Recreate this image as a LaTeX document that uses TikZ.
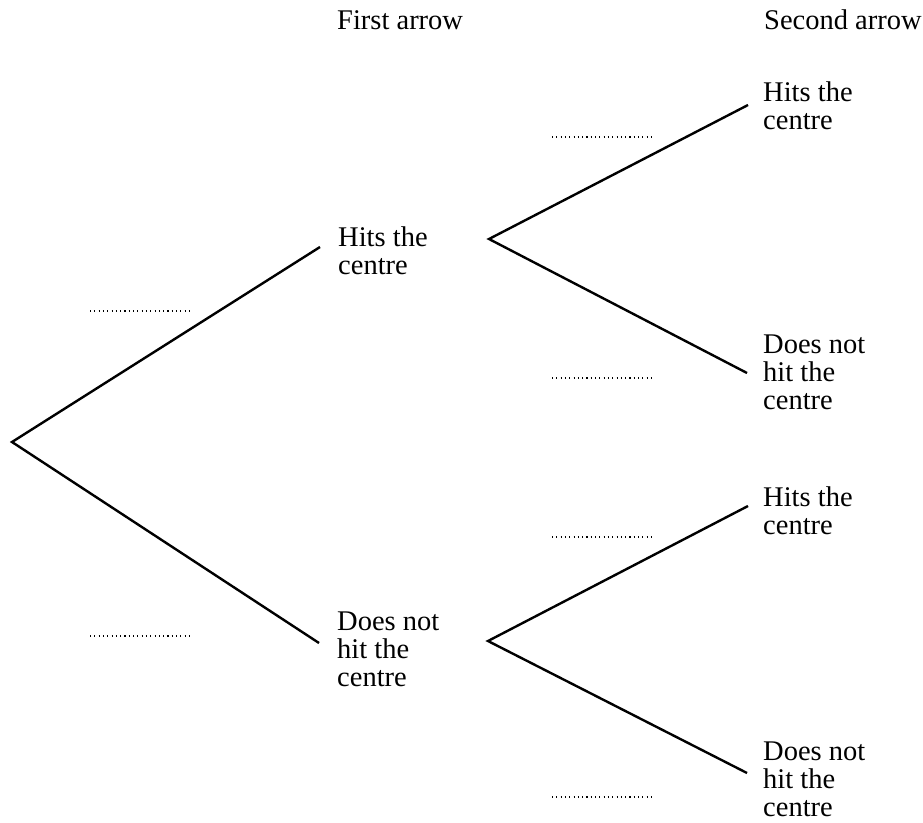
\documentclass[tikz,border=0pt]{standalone}
\usepackage{fontspec}
\setmainfont{Liberation Serif}
\begin{document}
\begin{tikzpicture}[x=1pt,y=-1pt,
  branch/.style={line width=2.4pt},
  blank/.style={line width=1.2pt, dash pattern=on 1.1pt off 3.2pt},
  lab/.style={anchor=north west, inner sep=0pt, align=left, font=\fontsize{28.5}{27.8}\selectfont},
  head/.style={anchor=base west, inner sep=0pt, font=\fontsize{28.5}{27.8}\selectfont}]
\useasboundingbox (0,0) rectangle (923,822);
% header
\node[head] (h1) at (337,29) {First arrow};
\node[head] (h2) at (764,29) {Second arrow};
% branch points
\coordinate (root) at (12,442);
\coordinate (a1) at (320,247);
\coordinate (a2) at (319,643);
\coordinate (b1) at (489,239);
\coordinate (b2) at (488,641);
\coordinate (c1) at (748,105);
\coordinate (c2) at (747,373);
\coordinate (c3) at (748,506);
\coordinate (c4) at (747,773);
\draw[branch] (a1) -- (root) -- (a2);
\draw[branch] (c1) -- (b1) -- (c2);
\draw[branch] (c3) -- (b2) -- (c4);
% labels (top of first line = baseline - cap/ascender height)
\node[lab] (l1) at (338,227) {Hits the\\centre};
\node[lab] (l2) at (337,612) {Does not\\hit the\\centre};
\node[lab] (l3) at (763,82) {Hits the\\centre};
\node[lab] (l4) at (763,335) {Does not\\hit the\\centre};
\node[lab] (l5) at (763,487) {Hits the\\centre};
\node[lab] (l6) at (763,742) {Does not\\hit the\\centre};
% dotted answer spaces
\coordinate (d1s) at (90,311);  \coordinate (d1e) at (190,311);
\coordinate (d2s) at (90,636);  \coordinate (d2e) at (190,636);
\coordinate (d3s) at (552,137); \coordinate (d3e) at (652,137);
\coordinate (d4s) at (552,378); \coordinate (d4e) at (652,378);
\coordinate (d5s) at (552,537); \coordinate (d5e) at (652,537);
\coordinate (d6s) at (552,797); \coordinate (d6e) at (652,797);
\foreach \i in {1,...,6} {\draw[blank] (d\i s) -- (d\i e);}
\end{tikzpicture}
\end{document}
